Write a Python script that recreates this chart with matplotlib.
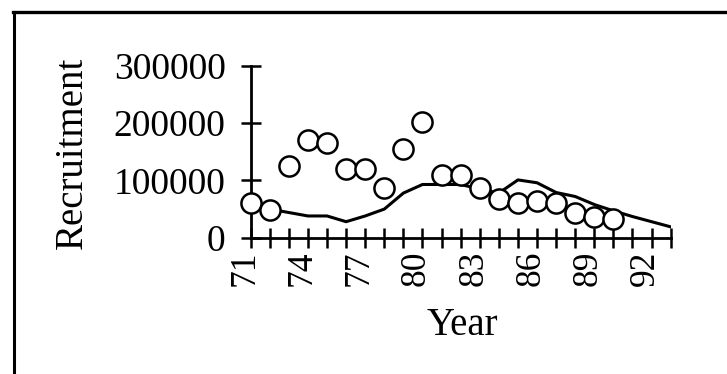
import matplotlib
matplotlib.use("Agg")
import matplotlib.pyplot as plt
from matplotlib.lines import Line2D
from matplotlib.transforms import ScaledTranslation

# observed recruitment (circles) and model fit (line)
obs_years = list(range(71, 91))
observed = [60000, 48000, 125000, 170000, 165000, 120000, 120000, 87000,
            155000, 203000, 110000, 110000, 86000, 67000, 60000, 65000,
            60000, 43000, 37000, 32000]

fit_years = list(range(71, 94))
fitted = [55000, 50000, 44000, 38000, 38000, 28000, 38000, 50000, 78000,
          93000, 93000, 93000, 85000, 78000, 101000, 96000, 79000, 72000,
          58000, 47000, 37000, 28000, 19000]

xtick_labels = [71, 74, 77, 80, 83, 86, 89, 92]
yticks = [0, 100000, 200000, 300000]

plt.rcParams["font.family"] = ["Liberation Serif", "DejaVu Serif"]

fig = plt.figure(figsize=(7.27, 3.74), dpi=100)
ax = fig.add_axes([0.3448, 0.3644, 0.5777, 0.4591])

ax.plot(fit_years, fitted, color="black", lw=2.2, zorder=2)
ax.plot(obs_years, observed, "o", ms=14.5, mfc="white", mec="black",
        mew=1.8, zorder=3, clip_on=False)

ax.set_xlim(71, 93)
ax.set_ylim(0, 300000)
for side in ("top", "right"):
    ax.spines[side].set_visible(False)
for side in ("left", "bottom"):
    ax.spines[side].set_linewidth(2)

ax.set_xticks(range(71, 94), minor=True)
ax.set_xticks(xtick_labels)
ax.set_xticklabels([str(v) for v in xtick_labels], rotation=90)
ax.set_yticks(yticks)
ax.set_yticklabels([str(v) for v in yticks])
ax.tick_params(axis="both", which="both", direction="inout", length=14,
               width=1.8)
ax.tick_params(axis="x", pad=2, labelsize=25.5)
ax.tick_params(axis="y", pad=11, labelsize=27)

shift = ScaledTranslation(-6 / 100, 0, fig.dpi_scale_trans)
for lab in ax.get_xticklabels():
    lab.set_transform(lab.get_transform() + shift)

fig.text(0.0997, 0.590, "Recruitment", rotation=90, ha="center",
         va="center", fontsize=28)
fig.text(0.636, 0.104, "Year", ha="center", va="baseline", fontsize=28)

# border around the panel (left and top edges only)
fig.add_artist(Line2D([13.5 / 727, 13.5 / 727], [0, 1 - 11.5 / 374],
                      transform=fig.transFigure, color="black", lw=2.2))
fig.add_artist(Line2D([12.5 / 727, 1], [1 - 11.5 / 374, 1 - 11.5 / 374],
                      transform=fig.transFigure, color="black", lw=2.4))

fig.savefig("out.png", dpi=100)
